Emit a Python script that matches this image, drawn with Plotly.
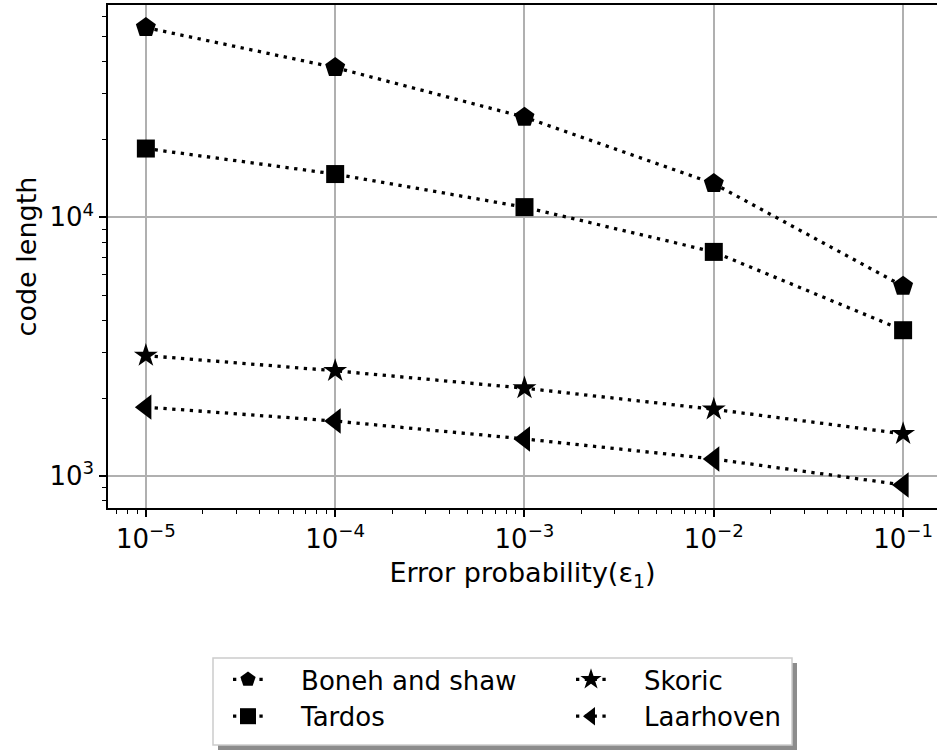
import plotly.graph_objects as go

error_prob = [1e-5, 1e-4, 1e-3, 1e-2, 1e-1]
boneh_shaw = [54150, 37950, 24400, 13500, 5415]
tardos = [18450, 14700, 10950, 7350, 3660]
skoric = [2920, 2550, 2185, 1810, 1455]
laarhoven = [1845, 1630, 1390, 1163, 923]

x_tick_vals = [1e-5, 1e-4, 1e-3, 1e-2, 1e-1]
x_tick_text = ["10<sup>\u22125</sup>", "10<sup>\u22124</sup>", "10<sup>\u22123</sup>",
               "10<sup>\u22122</sup>", "10<sup>\u22121</sup>"]
y_tick_vals = [1e3, 1e4]
y_tick_text = ["10<sup>3</sup>", "10<sup>4</sup>"]

series = [
    ("Boneh and shaw", boneh_shaw, "pentagon", 21, "legend"),
    ("Tardos", tardos, "square", 18, "legend"),
    ("Skoric", skoric, "star", 18, "legend2"),
    ("Laarhoven", laarhoven, "triangle-left", 22, "legend2"),
]

FONT = "DejaVu Sans"
W, H = 937, 751
L, R, T, B = 108, 0, 5, 243
PW, PH = W - L - R, H - T - B


def px(x):
    return (x - L) / PW


def py(y):
    return (H - B - y) / PH


PAD = "\u00a0" * 4

fig = go.Figure()
for name, vals, sym, size, lg in series:
    fig.add_trace(go.Scatter(
        x=error_prob, y=vals, name=PAD + name, mode="lines+markers",
        line=dict(color="black", width=3.3, dash="3.3px,5.5px"),
        marker=dict(symbol=sym, size=size, color="black"),
        legend=lg,
    ))

x_minor = [m * 10.0 ** e for e in range(-6, 0) for m in range(2, 10)]
x_minor = [v for v in x_minor if 10 ** -5.2 <= v <= 10 ** -0.82]
y_minor = [m * 10.0 ** e for e in range(2, 5) for m in range(2, 10)]
y_minor = [v for v in y_minor if 10 ** 2.876 <= v <= 10 ** 4.821]

leg_common = dict(orientation="v", xanchor="left", yanchor="top",
                  bgcolor="rgba(0,0,0,0)", borderwidth=0,
                  font=dict(size=26, family=FONT), tracegroupgap=0)

fig.update_layout(
    width=W, height=H,
    margin=dict(l=L, r=R, t=T, b=B),
    paper_bgcolor="white", plot_bgcolor="white",
    font=dict(family=FONT, size=26, color="black"),
    showlegend=True,
    legend=dict(x=px(228), y=py(656), **leg_common),
    legend2=dict(x=px(571), y=py(656), **leg_common),
    shapes=[
        dict(type="rect", xref="paper", yref="paper",
             x0=px(218), x1=px(797), y0=py(663), y1=py(750),
             fillcolor="#8c8c8c", line=dict(width=0), layer="above"),
        dict(type="rect", xref="paper", yref="paper",
             x0=px(213), x1=px(792), y0=py(658), y1=py(745),
             fillcolor="white", line=dict(color="#cccccc", width=1.5), layer="above"),
    ],
    xaxis=dict(
        type="log", range=[-5.2, -0.821],
        tickvals=x_tick_vals, ticktext=x_tick_text,
        showline=True, linecolor="black", linewidth=1.5, mirror=True,
        ticks="outside", ticklen=7, tickwidth=1.5, tickcolor="black",
        showgrid=True, gridcolor="#b0b0b0", gridwidth=1.5,
        zeroline=False,
        title=dict(text="Error probability(\u03b5<sub>1</sub>)", font=dict(size=27), standoff=10),
        tickfont=dict(size=26),
        minor=dict(tickvals=x_minor, ticks="outside", ticklen=4, tickwidth=1.2,
                   tickcolor="black", showgrid=False),
    ),
    yaxis=dict(
        type="log", range=[2.876, 4.821],
        tickvals=y_tick_vals, ticktext=y_tick_text,
        showline=True, linecolor="black", linewidth=1.5, mirror=False,
        ticks="outside", ticklen=7, tickwidth=1.5, tickcolor="black",
        showgrid=True, gridcolor="#b0b0b0", gridwidth=1.5,
        zeroline=False,
        title=dict(text="code length", font=dict(size=27), standoff=5),
        tickfont=dict(size=26),
        minor=dict(tickvals=y_minor, ticks="outside", ticklen=4, tickwidth=1.2,
                   tickcolor="black", showgrid=False),
    ),
)

fig.write_html("out.html")
